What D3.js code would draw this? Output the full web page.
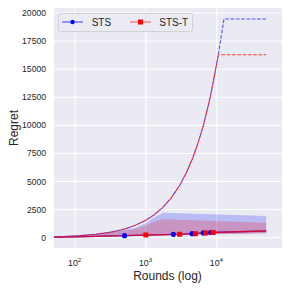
<!DOCTYPE html>
<html><head><meta charset="utf-8">
<script src="https://cdn.jsdelivr.net/npm/d3@7"></script>
<style>body{margin:0;background:#fff}svg{display:block}</style>
</head><body>
<script>
// ---- data ----
const yTicks = [0, 2500, 5000, 7500, 10000, 12500, 15000, 17500, 20000];
const xTicks = [100, 1000, 10000];
const xTickExp = ["2", "3", "4"];
const seriesNames = ["STS", "STS-T"];

// dashed upper curves (shared rising part)
const boundRounds = [50, 70, 100, 150, 200, 300, 400, 500, 700, 1000, 1300, 1700, 2200, 3000, 3700, 4600, 5500, 6500, 7300, 8000, 9000, 10540];
const boundRegret = [78, 108, 155, 232, 310, 465, 620, 775, 1085, 1550, 2015, 2635, 3410, 4650, 5735, 7100, 8500, 10000, 11300, 12350, 13950, 16280];
const stsBoundTailRounds = [12680, 50000];
const stsBoundTailRegret = [19460, 19460];
const stsTBoundTailRounds = [50000];
const stsTBoundTailRegret = [16280];

// solid regret lines
const stsRounds = [50, 100, 200, 500, 1000, 2450, 4500, 6500, 8200, 20000, 50000];
const stsRegret = [30, 70, 120, 178, 232, 303, 356, 420, 463, 530, 600];
const stsMarkIdx = [3, 5, 6, 7, 8];
const stsTRounds = [50, 100, 200, 500, 1000, 3000, 5000, 7000, 8900, 20000, 50000];
const stsTRegret = [30, 70, 120, 178, 240, 303, 356, 420, 463, 530, 597];
const stsTMarkIdx = [4, 5, 6, 7, 8];

// shaded bands
const bandRounds = [50, 100, 200, 350, 700, 1000, 1300, 1760, 50000];
const stsUpper = [50, 190, 360, 550, 870, 1300, 1800, 2230, 1930];
const stsTUpper = [45, 180, 340, 500, 780, 1100, 1425, 1640, 1340];
const bandLower = [20, 40, 70, 100, 140, 170, 190, 210, 390];

// ---- drawing ----
const W = 291, H = 291;
const L = 54, R = 282, T = 8, B = 248;
const svg = d3.select("body").append("svg").attr("width", W).attr("height", H);
const x = d3.scaleLog().domain([50.6, 83500]).range([L, R]);
const y = d3.scaleLinear().domain([-918, 20445]).range([B, T]);
const font = "Liberation Sans, Arial, sans-serif";
const txt = "#262626";

svg.append("rect").attr("x", L).attr("y", T).attr("width", R - L).attr("height", B - T).attr("fill", "#eaeaf2");
svg.append("clipPath").attr("id", "c").append("rect").attr("x", L).attr("y", T).attr("width", R - L).attr("height", B - T);

// grid
const grid = svg.append("g").attr("stroke", "#fff").attr("stroke-width", 1);
yTicks.forEach(v => grid.append("line").attr("x1", L).attr("x2", R).attr("y1", y(v)).attr("y2", y(v)));
xTicks.forEach(v => grid.append("line").attr("y1", T).attr("y2", B).attr("x1", x(v)).attr("x2", x(v)));

const plot = svg.append("g").attr("clip-path", "url(#c)");

// bands
const area = d3.area().x(d => x(d[0])).y0(d => y(d[1])).y1(d => y(d[2]));
plot.append("path").attr("d", area(bandRounds.map((r, i) => [r, bandLower[i], stsUpper[i]])))
  .attr("fill", "blue").attr("fill-opacity", 0.2);
plot.append("path").attr("d", area(bandRounds.map((r, i) => [r, bandLower[i], stsTUpper[i]])))
  .attr("fill", "red").attr("fill-opacity", 0.2);

const line = d3.line().x(d => x(d[0])).y(d => y(d[1]));

// solid lines
const stsPts = stsRounds.map((r, i) => [r, stsRegret[i]]);
const stsTPts = stsTRounds.map((r, i) => [r, stsTRegret[i]]);
plot.append("path").attr("d", line(stsPts)).attr("fill", "none").attr("stroke", "blue").attr("stroke-opacity", 0.7).attr("stroke-width", 1.3);
plot.append("path").attr("d", line(stsTPts)).attr("fill", "none").attr("stroke", "red").attr("stroke-opacity", 0.75).attr("stroke-width", 1.3);

// dashed bound curves
const bound = boundRounds.map((r, i) => [r, boundRegret[i]]);
const stsBound = bound.concat(stsBoundTailRounds.map((r, i) => [r, stsBoundTailRegret[i]]));
const stsTBound = bound.concat(stsTBoundTailRounds.map((r, i) => [r, stsTBoundTailRegret[i]]));
plot.append("path").attr("d", line(stsBound)).attr("fill", "none").attr("stroke", "#2a2aff").attr("stroke-opacity", 0.8)
  .attr("stroke-width", 1.1).attr("stroke-dasharray", "3.7,1.6");
plot.append("path").attr("d", line(stsTBound)).attr("fill", "none").attr("stroke", "#ff1a1a").attr("stroke-opacity", 0.85)
  .attr("stroke-width", 1.1).attr("stroke-dasharray", "3.7,1.6").attr("stroke-dashoffset", 2.6);

// markers
stsMarkIdx.forEach(i => plot.append("circle").attr("cx", x(stsRounds[i])).attr("cy", y(stsRegret[i])).attr("r", 2.6).attr("fill", "blue"));
stsTMarkIdx.forEach(i => plot.append("rect").attr("x", x(stsTRounds[i]) - 2.5).attr("y", y(stsTRegret[i]) - 2.5).attr("width", 5).attr("height", 5).attr("fill", "red"));

// y tick labels
yTicks.forEach(v => svg.append("text").attr("x", 46).attr("y", y(v)).attr("dy", "0.35em").attr("text-anchor", "end")
  .attr("font-family", font).attr("font-size", 8.6).attr("fill", txt).text(v));
// x tick labels
xTicks.forEach((v, i) => {
  const t = svg.append("text").attr("x", x(v) - 6.9).attr("y", 266).attr("font-family", font).attr("font-size", 8.8).attr("fill", txt);
  t.append("tspan").text("10");
  t.append("tspan").attr("dy", -4.5).attr("font-size", 6.2).text(xTickExp[i]);
});

// axis labels
svg.append("text").attr("x", 167.5).attr("y", 280).attr("text-anchor", "middle").attr("font-family", font).attr("font-size", 12).attr("fill", txt).text("Rounds (log)");
svg.append("text").attr("transform", "translate(18,128) rotate(-90)").attr("text-anchor", "middle").attr("font-family", font).attr("font-size", 12).attr("fill", txt).text("Regret");

// legend
const lg = svg.append("g");
lg.append("rect").attr("x", 58.5).attr("y", 13.5).attr("width", 134).attr("height", 18).attr("rx", 2).attr("fill", "#ebebf3").attr("stroke", "#cccccc").attr("stroke-width", 0.8);
lg.append("line").attr("x1", 62).attr("x2", 83).attr("y1", 22).attr("y2", 22).attr("stroke", "blue").attr("stroke-opacity", 0.6).attr("stroke-width", 1.3);
lg.append("circle").attr("cx", 72.5).attr("cy", 22).attr("r", 2.2).attr("fill", "blue");
lg.append("text").attr("x", 91.7).attr("y", 22).attr("dy", "0.36em").attr("font-family", font).attr("font-size", 10).attr("fill", txt).text(seriesNames[0]);
lg.append("line").attr("x1", 130).attr("x2", 151).attr("y1", 22).attr("y2", 22).attr("stroke", "red").attr("stroke-opacity", 0.5).attr("stroke-width", 1.3);
lg.append("rect").attr("x", 138).attr("y", 19.5).attr("width", 5).attr("height", 5).attr("fill", "red");
lg.append("text").attr("x", 159.3).attr("y", 22).attr("dy", "0.36em").attr("font-family", font).attr("font-size", 10).attr("fill", txt).text(seriesNames[1]);
</script>
</body></html>
